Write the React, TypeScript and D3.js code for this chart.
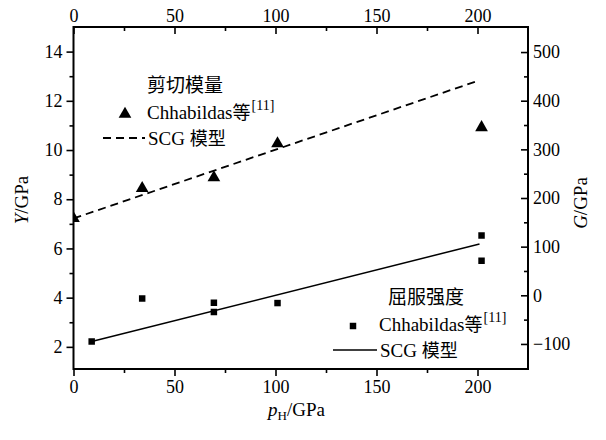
import React, { useRef, useEffect } from 'react';
import * as d3 from 'd3';

// shear modulus, right axis (G / GPa)
const shearData = [
  [0, 158],
  [34, 220],
  [69.5, 242],
  [101, 312],
  [202, 345],
];
const shearModel = [
  [0, 158],
  [201, 442],
];

// yield strength, left axis (Y / GPa)
const yieldData = [
  [9, 2.22],
  [34, 3.97],
  [69.5, 3.79],
  [69.5, 3.42],
  [101, 3.78],
  [202, 6.53],
  [202, 5.5],
];
const yieldModel = [
  [9, 2.22],
  [201, 6.18],
];

const xTicks = [0, 50, 100, 150, 200];
const xMinor = [25, 75, 125, 175];
const yTicks = [2, 4, 6, 8, 10, 12, 14];
const yMinor = [3, 5, 7, 9, 11, 13];
const gTicks = [-100, 0, 100, 200, 300, 400, 500];
const gMinor = [-50, 50, 150, 250, 350, 450];

const SERIF = "'Liberation Serif', 'Times New Roman', serif";
const CJK = "'Noto Sans CJK SC', sans-serif";

const App = () => {
  const ref = useRef(null);

  useEffect(() => {
    const width = 606;
    const height = 440;
    const margin = { top: 27, right: 78, bottom: 71, left: 73.5 };
    const w = width - margin.left - margin.right;
    const h = height - margin.top - margin.bottom;

    d3.select(ref.current).selectAll('*').remove();

    const svg = d3.select(ref.current)
      .append('svg')
      .attr('width', width)
      .attr('height', height)
      .attr('font-family', SERIF)
      .style('display', 'block')
      .style('background', '#fff');

    const g = svg.append('g')
      .attr('transform', `translate(${margin.left},${margin.top})`);

    const x = d3.scaleLinear().domain([0, 225]).range([0, w]);
    const y = d3.scaleLinear().domain([1.1, 15]).range([h, 0]);
    const gs = d3.scaleLinear().domain([-151.5, 551.5]).range([h, 0]);

    const styleAxis = (sel) => {
      sel.attr('font-family', SERIF).attr('font-size', 18);
      sel.select('.domain').remove();
      sel.selectAll('line').attr('stroke', '#000').attr('stroke-width', 1.6);
      sel.selectAll('text').attr('fill', '#000').style('font-family', SERIF);
    };

    // major + minor ticks
    g.append('g').attr('transform', `translate(0,${h})`)
      .call(d3.axisBottom(x).tickValues(xTicks).tickSizeInner(7).tickSizeOuter(0).tickPadding(4))
      .call(styleAxis);
    g.append('g').attr('transform', `translate(0,${h})`)
      .call(d3.axisBottom(x).tickValues(xMinor).tickSizeInner(4).tickSizeOuter(0).tickFormat(() => ''))
      .call(styleAxis);

    g.append('g')
      .call(d3.axisTop(x).tickValues(xTicks).tickSizeInner(-7).tickSizeOuter(0).tickPadding(5))
      .call(styleAxis);
    g.append('g')
      .call(d3.axisTop(x).tickValues(xMinor).tickSizeInner(-4).tickSizeOuter(0).tickFormat(() => ''))
      .call(styleAxis);

    g.append('g')
      .call(d3.axisLeft(y).tickValues(yTicks).tickSizeInner(7).tickSizeOuter(0).tickPadding(4))
      .call(styleAxis);
    g.append('g')
      .call(d3.axisLeft(y).tickValues(yMinor).tickSizeInner(4).tickSizeOuter(0).tickFormat(() => ''))
      .call(styleAxis);

    g.append('g').attr('transform', `translate(${w},0)`)
      .call(d3.axisRight(gs).tickValues(gTicks).tickSizeInner(-7).tickSizeOuter(0).tickPadding(5)
        .tickFormat(d => (d < 0 ? '\u2212' + Math.abs(d) : String(d))))
      .call(styleAxis);
    g.append('g').attr('transform', `translate(${w},0)`)
      .call(d3.axisRight(gs).tickValues(gMinor).tickSizeInner(-4).tickSizeOuter(0).tickFormat(() => ''))
      .call(styleAxis);

    // frame
    g.append('rect')
      .attr('width', w)
      .attr('height', h)
      .attr('fill', 'none')
      .attr('stroke', '#000')
      .attr('stroke-width', 2);

    svg.append('clipPath').attr('id', 'plot-clip')
      .append('rect').attr('width', w).attr('height', h);

    const plot = g.append('g').attr('clip-path', 'url(#plot-clip)');

    const lineG = d3.line().x(d => x(d[0])).y(d => gs(d[1]));
    const lineY = d3.line().x(d => x(d[0])).y(d => y(d[1]));

    plot.append('path')
      .attr('d', lineG(shearModel))
      .attr('fill', 'none')
      .attr('stroke', '#000')
      .attr('stroke-width', 1.8)
      .attr('stroke-dasharray', '8,5');

    plot.append('path')
      .attr('d', lineY(yieldModel))
      .attr('fill', 'none')
      .attr('stroke', '#000')
      .attr('stroke-width', 1.5);

    const tri = d3.symbol().type(d3.symbolTriangle).size(70);
    const sq = d3.symbol().type(d3.symbolSquare).size(42);

    plot.selectAll('.tri')
      .data(shearData)
      .enter()
      .append('path')
      .attr('d', tri)
      .attr('transform', d => `translate(${x(d[0])},${gs(d[1])})`)
      .attr('fill', '#000');

    plot.selectAll('.sq')
      .data(yieldData)
      .enter()
      .append('path')
      .attr('d', sq)
      .attr('transform', d => `translate(${x(d[0])},${y(d[1])})`)
      .attr('fill', '#000');

    // legends: latin in serif, chinese in CJK font, as separate tspans
    const legend = (title, titleX, tx, ty, symbolX, lineX, dashed) => {
      svg.append('text')
        .attr('x', titleX)
        .attr('y', ty)
        .attr('fill', '#000')
        .attr('font-size', 19)
        .style('font-family', CJK)
        .text(title);

      const t2 = svg.append('text')
        .attr('x', tx)
        .attr('y', ty + 27)
        .attr('fill', '#000')
        .attr('font-size', 19);
      t2.append('tspan').style('font-family', SERIF).text('Chhabildas');
      t2.append('tspan').style('font-family', CJK).attr('font-size', 18).text('等');
      t2.append('tspan').style('font-family', SERIF).attr('font-size', 14).attr('dy', -9).attr('dx', 1).text('[11]');

      const t3 = svg.append('text')
        .attr('x', tx + 1)
        .attr('y', ty + 53)
        .attr('fill', '#000')
        .attr('font-size', 19);
      t3.append('tspan').style('font-family', SERIF).text('SCG ');
      t3.append('tspan').style('font-family', CJK).attr('font-size', 18).text('模型');

      svg.append('path')
        .attr('d', dashed ? tri() : sq())
        .attr('transform', `translate(${symbolX},${ty + 22})`)
        .attr('fill', '#000');
      svg.append('line')
        .attr('x1', lineX)
        .attr('x2', tx - 2)
        .attr('y1', ty + 46)
        .attr('y2', ty + 46)
        .attr('stroke', '#000')
        .attr('stroke-width', dashed ? 1.8 : 1.3)
        .attr('stroke-dasharray', dashed ? '8,5' : null);
    };

    legend('剪切模量', 147, 147, 92, 125, 103, true);
    legend('屈服强度', 388, 379, 304, 353, 333, false);

    // axis titles
    const yt = svg.append('text')
      .attr('transform', `translate(28,${margin.top + h / 2 + 2}) rotate(-90)`)
      .attr('text-anchor', 'middle')
      .attr('fill', '#000')
      .attr('font-size', 19);
    yt.append('tspan').attr('font-style', 'italic').text('Y');
    yt.append('tspan').text('/GPa');

    const gt = svg.append('text')
      .attr('transform', `translate(587,${margin.top + h / 2 + 5}) rotate(-90)`)
      .attr('text-anchor', 'middle')
      .attr('fill', '#000')
      .attr('font-size', 19);
    gt.append('tspan').attr('font-style', 'italic').text('G');
    gt.append('tspan').text('/GPa');

    const xt = svg.append('text')
      .attr('x', 268)
      .attr('y', 416)
      .attr('fill', '#000')
      .attr('font-size', 19);
    xt.append('tspan').attr('font-style', 'italic').text('p');
    xt.append('tspan').attr('dy', 4).attr('font-size', 13).text('H');
    xt.append('tspan').attr('dy', -4).text('/GPa');
  }, []);

  return <div ref={ref} style={{ margin: -8 }}></div>;
};

export default App;
